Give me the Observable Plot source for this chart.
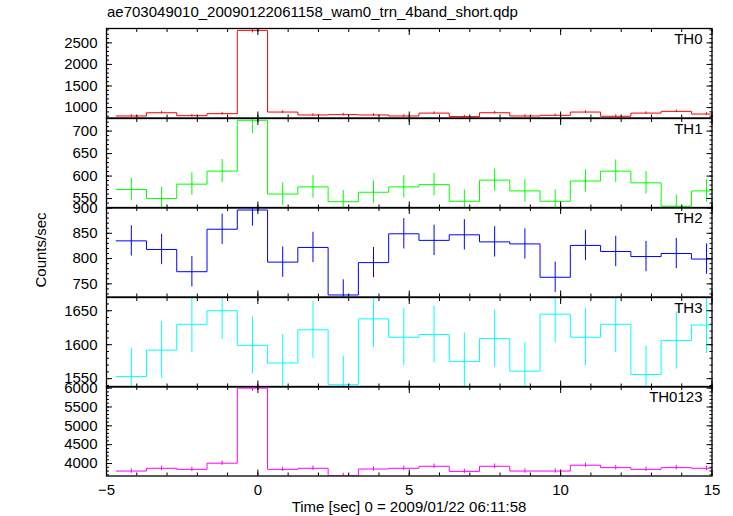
<!DOCTYPE html>
<html><head><meta charset="utf-8">
<script src="https://cdn.jsdelivr.net/npm/d3@7"></script>
<script src="https://cdn.jsdelivr.net/npm/@observablehq/plot@0.6"></script>
<style>
body{margin:0;background:#fff;}
#chart{position:relative;width:733px;height:516px;overflow:hidden;background:#fff;font-family:"Liberation Sans",Arial,Helvetica,sans-serif;color:#000;}
#chart svg{position:absolute;left:0;}
#title{position:absolute;left:107px;top:3px;font-size:15px;white-space:nowrap;}
#ylabel{position:absolute;left:40px;top:250px;font-size:15px;white-space:nowrap;transform:translate(-50%,-50%) rotate(-90deg);}
#xlabel{position:absolute;left:409px;top:498px;font-size:15px;white-space:nowrap;transform:translateX(-50%);}
</style></head><body><div id="chart"></div><script>
const title = "ae703049010_20090122061158_wam0_trn_4band_short.qdp";
const xLabel = "Time [sec] 0 = 2009/01/22 06:11:58";
const yLabel = "Counts/sec";
const bands = ["TH0", "TH1", "TH2", "TH3", "TH0123"];
const colors = ["#ff0000", "#00ff00", "#0000ff", "#00ffff", "#ff00ff"];

// bin centers (sec), bin width 1 sec
const time = [-4.18, -3.18, -2.18, -1.18, -0.18, 0.82, 1.82, 2.82, 3.82, 4.82,
              5.82, 6.82, 7.82, 8.82, 9.82, 10.82, 11.82, 12.82, 13.82, 14.82];
const binWidth = 1;

const th0    = [805, 880, 812, 858, 2790, 896, 828, 836, 828, 805, 872, 790, 880, 805, 820, 896, 798, 872, 912, 850];
const th0Err = [30, 30, 30, 30, 60, 30, 30, 30, 30, 30, 30, 30, 30, 30, 30, 30, 30, 30, 30, 30];
const th1    = [570, 550, 582, 611, 724, 560, 576, 543, 564, 576, 581, 544, 591, 567, 544, 589, 611, 585, 533, 567];
const th1Err = [25, 25, 25, 26, 30, 25, 25, 25, 25, 25, 25, 25, 25, 25, 25, 25, 25, 25, 25, 25];
const th2    = [835, 818, 774, 858, 896, 793, 822, 728, 792, 849, 836, 847, 833, 829, 763, 826, 814, 804, 810, 799];
const th2Err = [30, 30, 30, 30, 32, 30, 30, 30, 30, 30, 30, 30, 30, 30, 30, 30, 30, 30, 30, 30];
const th3    = [1553, 1592, 1630, 1650, 1599, 1573, 1622, 1541, 1638, 1611, 1615, 1575, 1609, 1561, 1645, 1611, 1630, 1556, 1606, 1629];
const th3Err = [42, 42, 42, 42, 42, 42, 42, 42, 42, 42, 42, 42, 42, 42, 42, 42, 42, 42, 42, 42];
const th0123    = [3800, 3873, 3845, 4009, 6000, 3845, 3873, 3682, 3855, 3873, 3927, 3791, 3927, 3800, 3800, 3955, 3891, 3845, 3891, 3873];
const th0123Err = [60, 60, 60, 60, 90, 60, 60, 60, 60, 60, 60, 60, 60, 60, 60, 60, 60, 60, 60, 60];

const xDomain = [-5, 15];
const xMajorTicks = [-5, 0, 5, 10, 15];
const xTickLabels = ["\u22125", "0", "5", "10", "15"];
const xMinorTicks = [-5,-4,-3,-2,-1,0,1,2,3,4,5,6,7,8,9,10,11,12,13,14,15];

const yDomains = [[758, 2833], [529, 728], [724, 901], [1537.7, 1669.5], [3669, 6043]];
const yMajorTicks = [
  [1000, 1500, 2000, 2500],
  [550, 600, 650, 700],
  [750, 800, 850, 900],
  [1550, 1600, 1650],
  [4000, 4500, 5000, 5500, 6000]
];
const yMinorStep = [100, 10, 10, 10, 100];

const series = [th0, th1, th2, th3, th0123];
const errors = [th0Err, th1Err, th2Err, th3Err, th0123Err];

// layout
const W = 733, ML = 106, MR = 21.5;
const panelTops = [28, 117.5, 207, 296.5, 386];
const PH = 89.5;

const chart = document.getElementById("chart");
const font = "'Liberation Sans', Arial, Helvetica, sans-serif";

function minorTicks(domain, step) {
  const lo = Math.ceil(domain[0] / step) * step;
  return d3.range(lo, domain[1] + 1e-9, step);
}

series.forEach((vals, i) => {
  const errs = errors[i];
  const rows = time.map((t, j) => ({t, v: vals[j], e: errs[j]}));
  const steps = rows.map(r => ({x: r.t - binWidth / 2, y: r.v}));
  steps.push({x: rows[rows.length - 1].t + binWidth / 2, y: rows[rows.length - 1].v});
  const last = i === series.length - 1;
  const mt = 10, mb = last ? 30 : 10;
  const yMinor = minorTicks(yDomains[i], yMinorStep[i]);
  const noText = () => "";
  const marks = [
    Plot.line(steps, {x: "x", y: "y", curve: "step-after", stroke: colors[i], strokeWidth: 1, clip: true}),
    Plot.ruleX(rows, {x: "t", y1: d => d.v - d.e, y2: d => d.v + d.e, stroke: colors[i], strokeWidth: 1, clip: true}),
    Plot.frame({stroke: "#000", strokeWidth: 1.3}),
    Plot.axisY({ticks: yMajorTicks[i], tickSize: 0, tickPadding: 9, tickFormat: d => String(d), label: null, fontSize: 15, fontFamily: font}),
    Plot.axisY({anchor: "left", ticks: yMajorTicks[i], tickSize: -6, tickFormat: noText, label: null, stroke: "#000"}),
    Plot.axisY({anchor: "left", ticks: yMinor, tickSize: -3, tickFormat: noText, label: null, stroke: "#000"}),
    Plot.axisY({anchor: "right", ticks: yMajorTicks[i], tickSize: -6, tickFormat: noText, label: null, stroke: "#000"}),
    Plot.axisY({anchor: "right", ticks: yMinor, tickSize: -3, tickFormat: noText, label: null, stroke: "#000"}),
    Plot.axisX({anchor: "bottom", ticks: xMajorTicks, tickSize: -6, tickFormat: noText, label: null, stroke: "#000"}),
    Plot.axisX({anchor: "bottom", ticks: xMinorTicks, tickSize: -3, tickFormat: noText, label: null, stroke: "#000"}),
    Plot.axisX({anchor: "top", ticks: xMajorTicks, tickSize: -6, tickFormat: noText, label: null, stroke: "#000"}),
    Plot.axisX({anchor: "top", ticks: xMinorTicks, tickSize: -3, tickFormat: noText, label: null, stroke: "#000"}),
    Plot.text([bands[i]], {text: d => d, frameAnchor: "top-right", textAnchor: "end", lineAnchor: "top", dx: -9.5, dy: 4.5, fontSize: 15, fontFamily: font, fill: "#000"})
  ];
  if (last) {
    marks.push(Plot.axisX({anchor: "bottom", ticks: xMajorTicks, tickSize: 0, tickPadding: 8,
      tickFormat: d => xTickLabels[xMajorTicks.indexOf(d)], label: null, fontSize: 15, fontFamily: font}));
  }
  const svg = Plot.plot({
    width: W, height: PH + mt + mb,
    marginLeft: ML, marginRight: MR, marginTop: mt, marginBottom: mb,
    x: {domain: xDomain},
    y: {domain: yDomains[i]},
    style: {background: "transparent", fontSize: "15px", fontFamily: font, color: "#000", overflow: "visible"},
    marks
  });
  svg.style.top = (panelTops[i] - mt) + "px";
  chart.appendChild(svg);
});

const t = document.createElement("div"); t.id = "title"; t.textContent = title; chart.appendChild(t);
const yl = document.createElement("div"); yl.id = "ylabel"; yl.textContent = yLabel; chart.appendChild(yl);
const xl = document.createElement("div"); xl.id = "xlabel"; xl.textContent = xLabel; chart.appendChild(xl);
</script></body></html>
